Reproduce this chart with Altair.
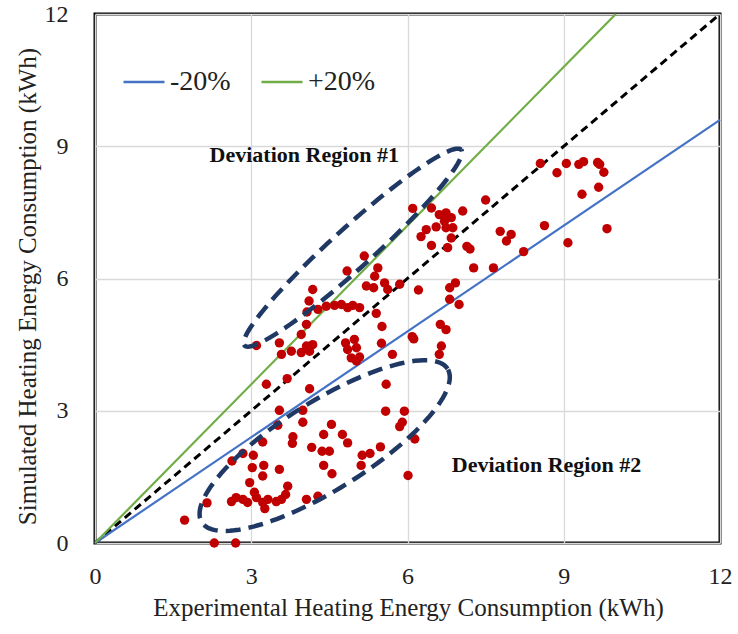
import altair as alt
import numpy as np
import pandas as pd

# Experimental (x) vs simulated (y) heating energy consumption, kWh
exp_kwh = [
    3.29, 3.69, 4.12, 5.59, 3.54, 3.99, 3.99, 3.51, 5.58, 5.94, 5.90, 5.85, 4.54, 4.39, 4.75,
    4.85, 3.80, 3.79, 3.22, 4.16, 4.36, 4.50, 6.14, 5.48, 5.13, 5.28, 5.11, 4.39, 4.55, 6.01,
    2.63, 2.84, 3.04, 3.02, 3.24, 3.54, 3.22, 2.97, 3.06, 3.70, 3.66, 2.62, 2.71, 2.84, 2.93,
    3.10, 3.22, 3.32, 3.48, 3.58, 3.26, 4.06, 4.28, 2.15, 1.72, 2.29, 2.70,
    5.17, 4.84, 5.43, 5.37, 5.56, 5.62, 5.21, 5.35, 5.85, 6.21, 7.27, 6.92, 6.81, 6.81, 6.99,
    4.18, 4.11, 4.07, 4.44, 4.60, 4.73, 4.85, 4.95, 5.08, 4.28, 5.40, 5.51, 4.06, 3.96, 3.10,
    3.54, 3.58, 3.77, 3.96, 4.06, 4.18, 4.12, 4.81, 4.98, 5.02, 4.85, 4.92, 5.08, 5.02, 5.50,
    5.71, 6.09, 6.12, 6.63, 6.74, 6.65, 6.61,
    8.55, 9.05, 8.87, 9.29, 9.38, 9.65, 9.69, 9.77, 9.67, 9.35, 7.50, 6.10, 6.46, 7.06, 6.61,
    6.74, 6.84, 6.71, 6.87, 6.74, 6.55, 6.36, 6.26, 6.84, 6.46, 6.77, 7.14, 7.20, 7.78, 7.99,
    7.90, 8.63, 9.08, 8.23, 7.65, 9.83,
]
sim_kwh = [
    3.60, 3.73, 3.50, 3.60, 3.01, 3.01, 2.74, 2.67, 2.99, 2.99, 2.74, 2.64, 2.69, 2.46, 2.46,
    2.27, 2.41, 2.26, 2.29, 2.17, 2.08, 2.08, 2.36, 2.18, 1.99, 2.03, 1.76, 1.76, 1.57, 1.53,
    1.86, 2.03, 1.99, 1.71, 1.76, 1.67, 1.52, 1.37, 1.15, 1.29, 1.10, 0.94, 1.03, 0.99, 0.92,
    1.03, 0.92, 0.99, 0.94, 0.99, 0.78, 0.99, 1.06, 0.91, 0.52, 0.00, 0.00,
    6.51, 6.17, 6.24, 6.05, 5.90, 5.75, 5.83, 5.79, 5.87, 5.74, 6.24, 5.90, 5.79, 5.53, 5.41,
    5.75, 5.49, 5.24, 5.37, 5.39, 5.41, 5.34, 5.39, 5.34, 5.30, 5.21, 4.91, 4.96, 4.73, 4.48,
    4.54, 4.28, 4.35, 4.32, 4.47, 4.50, 4.35, 4.54, 4.62, 4.43, 4.39, 4.20, 4.22, 4.13, 4.53,
    4.28, 4.68, 4.63, 4.96, 4.84, 4.47, 4.28,
    8.61, 8.61, 8.40, 8.59, 8.65, 8.63, 8.59, 8.41, 8.07, 7.91, 7.78, 7.59, 7.60, 7.53, 7.45,
    7.49, 7.38, 7.30, 7.15, 7.15, 7.17, 7.11, 6.95, 6.92, 6.75, 6.70, 6.73, 6.67, 7.07, 7.00,
    6.85, 7.20, 6.81, 6.61, 6.24, 7.13,
]

# Reference lines (end points)
line_series = ["-20%", "-20%", "+20%", "+20%"]
line_x = [0, 12, 0, 10]
line_y = [0, 9.6, 0, 12]
diag_x = [0, 12]
diag_y = [0, 12]

# Deviation region outlines: centre, major and minor half-axis vectors (data units)
regions = ["Deviation Region #1", "Deviation Region #2"]
reg_cx = [4.95, 4.41]
reg_cy = [6.70, 2.21]
reg_u = [(2.08, 2.22), (2.36, 1.74)]
reg_v = [(-0.26, 0.34), (-0.45, 0.85)]
label_x = [2.2, 6.85]
label_y = [8.81, 1.76]

FONT = "Liberation Serif"
xs = alt.Scale(domain=[0, 12], nice=False)
ys = alt.Scale(domain=[0, 12], nice=False)

pts = pd.DataFrame({"x": exp_kwh, "y": sim_kwh})
lines = pd.DataFrame({"series": line_series, "x": line_x, "y": line_y})
diag = pd.DataFrame({"x": diag_x, "y": diag_y})

rows = []
t = np.linspace(0, 2 * np.pi, 121)
for i, name in enumerate(regions):
    for k, tt in enumerate(t):
        rows.append({
            "region": name, "k": k,
            "x": reg_cx[i] + reg_u[i][0] * np.cos(tt) + reg_v[i][0] * np.sin(tt),
            "y": reg_cy[i] + reg_u[i][1] * np.cos(tt) + reg_v[i][1] * np.sin(tt),
        })
ell = pd.DataFrame(rows)
labels = pd.DataFrame({"text": regions, "x": label_x, "y": label_y})

xax = alt.Axis(values=[0, 3, 6, 9, 12], title="Experimental Heating Energy Consumption (kWh)",
               labelPadding=21, labelFlush=False, labelOverlap=False,
               titleX=313, titleY=64, titleBaseline="middle")
yax = alt.Axis(values=[0, 3, 6, 9, 12], title="Simulated Heating Energy Consumption (kWh)",
               labelPadding=27, labelOverlap=False,
               titleX=-68, titleY=272, titleAngle=270, titleAlign="center", titleBaseline="middle")

diag_layer = alt.Chart(diag).mark_line(color="black", strokeWidth=3, strokeDash=[8, 5]).encode(
    x=alt.X("x:Q", scale=xs, axis=xax),
    y=alt.Y("y:Q", scale=ys, axis=yax),
)

band_layer = alt.Chart(lines).mark_line(strokeWidth=2.2).encode(
    x=alt.X("x:Q", scale=xs),
    y=alt.Y("y:Q", scale=ys),
    color=alt.Color("series:N",
                    scale=alt.Scale(domain=["-20%", "+20%"], range=["#4472C4", "#70AD47"]),
                    legend=alt.Legend(title=None, orient="none", legendX=27, legendY=46,
                                      direction="horizontal", symbolType="stroke",
                                      symbolSize=1681, symbolStrokeWidth=2.5,
                                      labelFont=FONT, labelFontSize=28, labelColor="#222",
                                      labelOffset=4, columnPadding=25, padding=0)),
)

pt_layer = alt.Chart(pts).mark_circle(size=88, color="#C00000", opacity=1).encode(
    x=alt.X("x:Q", scale=xs),
    y=alt.Y("y:Q", scale=ys),
)

ell_layer = alt.Chart(ell).mark_line(color="#1F3864", strokeWidth=4.5, strokeDash=[15, 8]).encode(
    x=alt.X("x:Q", scale=xs),
    y=alt.Y("y:Q", scale=ys),
    detail="region:N",
    order="k:Q",
)

txt_layer = alt.Chart(labels).mark_text(font=FONT, fontSize=22, fontWeight="bold",
                                        align="left", baseline="middle", color="#111").encode(
    x=alt.X("x:Q", scale=xs),
    y=alt.Y("y:Q", scale=ys),
    text="text:N",
)

chart = alt.layer(diag_layer, band_layer, pt_layer, ell_layer, txt_layer).properties(
    width=625, height=529,
    autosize=alt.AutoSizeParams(type="none"),
    padding={"left": 95, "top": 14, "right": 18, "bottom": 91},
    background="white",
).configure_view(
    stroke="black", strokeWidth=3
).configure_axis(
    grid=True, gridColor="#d9d9d9", gridWidth=1.3, domain=False, ticks=False,
    labelFont=FONT, labelFontSize=24, labelColor="#222",
    titleFont=FONT, titleFontSize=25, titleFontWeight="normal", titleColor="#222",
)

chart.save("out.html", embed_options={"renderer": "svg", "actions": False})
